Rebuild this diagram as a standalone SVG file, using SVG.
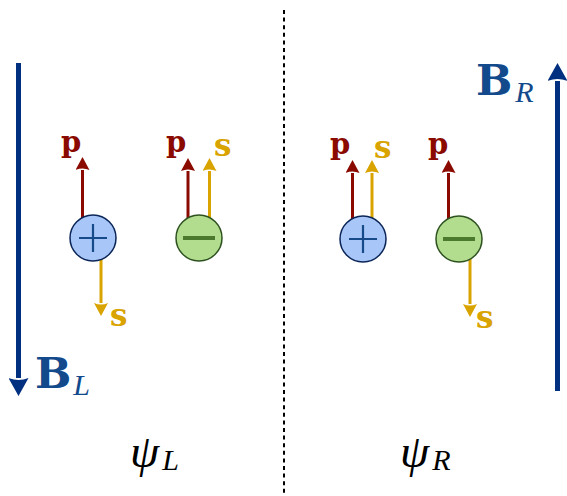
<svg xmlns="http://www.w3.org/2000/svg" width="567" height="496" viewBox="0 0 567 496">
<style>
.p{stroke:#8a0a00;stroke-width:3;fill:none}
.s{stroke:#d9a300;stroke-width:3;fill:none}
.B{stroke:#00307f;stroke-width:5;fill:none}
.lp{font-family:"DejaVu Serif",serif;font-weight:bold;font-size:29px;fill:#8a0a00}
.ls{font-family:"DejaVu Serif",serif;font-weight:bold;font-size:31px;fill:#d9a300}
.lB{font-family:"DejaVu Serif",serif;font-weight:bold;font-size:43px;fill:#124a8c}
.sub{font-family:"Liberation Serif",serif;font-style:italic;font-weight:normal;font-size:30px}
.psi{font-family:"Liberation Serif",serif;font-style:italic;font-size:47px;fill:#000}
.plus circle{fill:#a8c7f8;stroke:#0a2557;stroke-width:1.5}
.plus path{stroke:#174a88;stroke-width:2.2;fill:none}
.minus circle{fill:#b3dd8e;stroke:#2d5220;stroke-width:1.5}
.minus path{stroke:#4b7a2e;stroke-width:4;fill:none}
</style>
<defs>
<marker id="hp" markerUnits="userSpaceOnUse" viewBox="0 -7 13 14" refX="0" refY="0" markerWidth="13" markerHeight="14" orient="auto"><path d="M0,-7 L13,0 L0,7 Q3,0 0,-7z" fill="#8a0a00"/></marker>
<marker id="hs" markerUnits="userSpaceOnUse" viewBox="0 -7 13 14" refX="0" refY="0" markerWidth="13" markerHeight="14" orient="auto"><path d="M0,-7 L13,0 L0,7 Q3,0 0,-7z" fill="#d9a300"/></marker>
<marker id="hB" markerUnits="userSpaceOnUse" viewBox="0 -10 18 20" refX="0" refY="0" markerWidth="18" markerHeight="20" orient="auto"><path d="M0,-10 L18,0 L0,10 Q4,0 0,-10z" fill="#00307f"/></marker>
</defs>
<line x1="284" y1="10" x2="284" y2="496" stroke="#000" stroke-width="2" stroke-dasharray="4 3.6"/>
<g id="connectors">
<line class="B" x1="18.5" y1="63" x2="18.5" y2="378" marker-end="url(#hB)"/>
<line class="B" x1="557.5" y1="391" x2="557.5" y2="81" marker-end="url(#hB)"/>
<line class="p" x1="82.5" y1="238" x2="82.5" y2="170" marker-end="url(#hp)"/>
<line class="s" x1="101" y1="238" x2="101" y2="303" marker-end="url(#hs)"/>
<line class="p" x1="188" y1="238" x2="188" y2="171" marker-end="url(#hp)"/>
<line class="s" x1="209.5" y1="238" x2="209.5" y2="171" marker-end="url(#hs)"/>
<line class="p" x1="352.5" y1="239" x2="352.5" y2="173" marker-end="url(#hp)"/>
<line class="s" x1="372" y1="239" x2="372" y2="173" marker-end="url(#hs)"/>
<line class="p" x1="448.5" y1="239" x2="448.5" y2="173" marker-end="url(#hp)"/>
<line class="s" x1="470" y1="239" x2="470" y2="304" marker-end="url(#hs)"/>
</g>
<g id="plusL" class="plus"><circle cx="93" cy="238" r="23"/><path d="M79,238 H107 M93,224 V252"/></g>
<g id="minusL" class="minus"><circle cx="199" cy="238" r="23"/><path d="M183,238 H215"/></g>
<g id="plusR" class="plus"><circle cx="363" cy="239" r="23"/><path d="M349,239 H377 M363,225 V253"/></g>
<g id="minusR" class="minus"><circle cx="459" cy="239" r="23"/><path d="M443,239 H475"/></g>
<g id="labels">
<text class="lp" x="61" y="152">p</text>
<text class="ls" x="110" y="326">s</text>
<text class="lp" x="166" y="152">p</text>
<text class="ls" x="214" y="156">s</text>
<text class="lp" x="330" y="154">p</text>
<text class="ls" x="374" y="158">s</text>
<text class="lp" x="428" y="154">p</text>
<text class="ls" x="476" y="328">s</text>
<text class="lB" x="35" y="388">B<tspan class="sub" dx="2" dy="7" fill="#124a8c">L</tspan></text>
<text class="lB" x="476" y="95">B<tspan class="sub" dx="3" dy="7" fill="#124a8c">R</tspan></text>
<text class="psi" x="130" y="467">ψ<tspan class="sub" dx="3" dy="3">L</tspan></text>
<text class="psi" x="400" y="467">ψ<tspan class="sub" dx="3" dy="3">R</tspan></text>
</g>
</svg>
